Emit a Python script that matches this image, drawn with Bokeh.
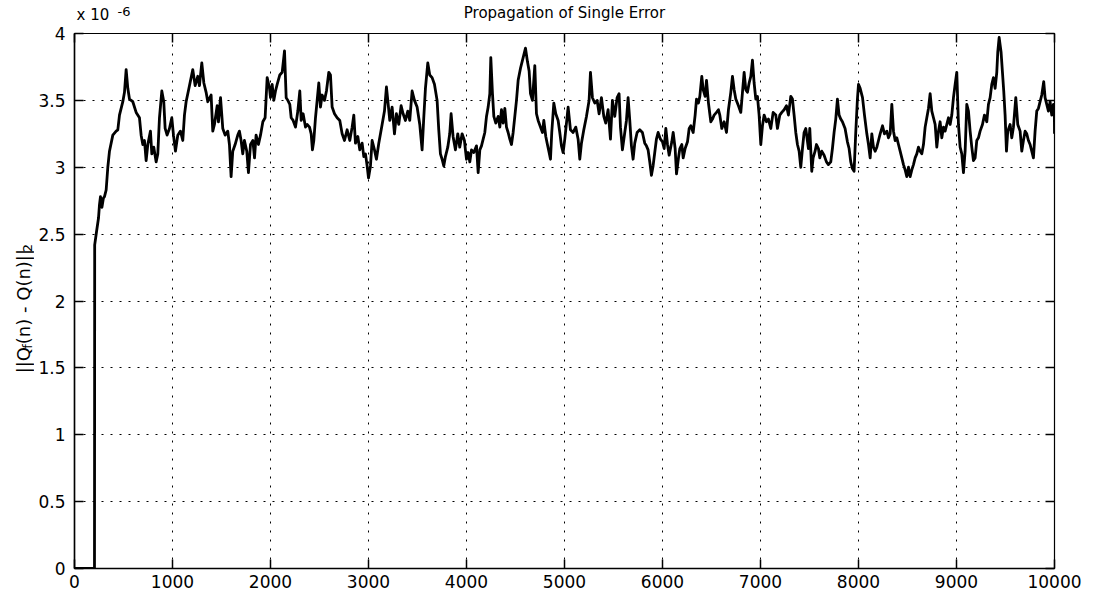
from math import pi

from bokeh.core.properties import value
from bokeh.embed import file_html
from bokeh.layouts import column, row
from bokeh.models import ColumnDataSource, FixedTicker, LinearAxis
from bokeh.plotting import figure
from bokeh.resources import INLINE

# iteration index n and ||Q_f(n) - Q(n)||_2 in units of 1e-6
n_iter = [
    0, 204, 206, 225, 245, 255, 265, 280, 295, 306, 323, 340, 357, 391, 425, 442, 459, 493, 510, 527,
    544, 561, 595, 629, 663, 680, 697, 714, 731, 748, 775, 789, 809, 833, 850, 867, 891, 911, 925, 945,
    969, 993, 1010, 1030, 1054, 1081, 1105, 1122, 1139, 1173, 1207, 1231, 1258, 1275, 1299, 1320, 1343,
    1360, 1394, 1411, 1428, 1456, 1469, 1490, 1513, 1537, 1564, 1581, 1598, 1615, 1639, 1666, 1683, 1700,
    1717, 1734, 1758, 1775, 1796, 1820, 1837, 1853, 1877, 1898, 1922, 1945, 1966, 1990,
    2000, 2017, 2034, 2051, 2068, 2095, 2119, 2143, 2160, 2177, 2197, 2211, 2231, 2255, 2279, 2299, 2313,
    2333, 2357, 2374, 2398, 2415, 2428, 2442, 2459, 2476, 2493, 2510, 2527, 2551, 2571, 2595, 2612, 2629,
    2653, 2680, 2707, 2731, 2755, 2782, 2809, 2833, 2850, 2867, 2891, 2911, 2935, 2952, 2969, 2986, 3000,
    3020, 3037, 3061, 3081, 3105, 3139, 3163, 3183, 3197, 3217, 3241, 3265, 3285, 3309, 3333, 3353, 3377,
    3401, 3421, 3445, 3469, 3496, 3523, 3547, 3564, 3581, 3605, 3625, 3649, 3673, 3700, 3717, 3734, 3751,
    3768, 3785, 3809, 3829, 3843, 3863, 3887, 3911, 3931, 3955, 3979, 3989,
    4000, 4017, 4034, 4051, 4075, 4102, 4119, 4136, 4153, 4170, 4187, 4204, 4221, 4238, 4248, 4265, 4279,
    4299, 4323, 4340, 4357, 4374, 4391, 4408, 4425, 4442, 4459, 4476, 4493, 4510, 4527, 4551, 4578, 4602,
    4622, 4639, 4653, 4673, 4697, 4714, 4731, 4755, 4775, 4789, 4809, 4823, 4843, 4857, 4870, 4891, 4911,
    4935, 4952, 4969, 4986, 5003, 5037, 5061, 5088, 5115, 5139, 5156, 5173, 5197, 5224, 5251, 5265, 5285,
    5309, 5333, 5353, 5377, 5401, 5421, 5445, 5469, 5489, 5513, 5537, 5557, 5571, 5591, 5615, 5632, 5649,
    5666, 5683, 5700, 5717, 5741, 5768, 5795, 5819, 5836, 5853, 5870, 5887, 5904, 5921, 5938, 5955, 5979,
    6000, 6017, 6034, 6051, 6068, 6095, 6109, 6129, 6143, 6163, 6177, 6197, 6211, 6231, 6255, 6272, 6289,
    6313, 6333, 6347, 6367, 6381, 6401, 6415, 6435, 6449, 6469, 6493, 6510, 6527, 6551, 6571, 6585, 6605,
    6629, 6653, 6673, 6697, 6714, 6731, 6748, 6775, 6799, 6816, 6833, 6850, 6867, 6884, 6901, 6918, 6935,
    6952, 6969, 6986, 7003, 7020, 7037, 7061, 7081, 7105, 7129, 7156, 7173, 7197, 7217, 7241, 7265, 7285,
    7309, 7326, 7343, 7360, 7377, 7394, 7411, 7428, 7445, 7462, 7489, 7503, 7523, 7537, 7557, 7571, 7591,
    7605, 7625, 7649, 7673, 7693, 7717, 7734, 7751, 7768, 7785, 7802, 7819, 7836, 7863, 7887, 7904, 7921,
    7938, 7955, 7972, 7989,
    8000, 8017, 8041, 8061, 8085, 8102, 8119, 8136, 8153, 8170, 8187, 8204, 8221, 8245, 8265, 8289, 8306,
    8323, 8340, 8357, 8374, 8391, 8408, 8425, 8442, 8459, 8476, 8493, 8510, 8527, 8544, 8561, 8578, 8595,
    8612, 8629, 8646, 8663, 8680, 8697, 8714, 8731, 8748, 8765, 8782, 8799, 8816, 8833, 8850, 8867, 8884,
    8901, 8918, 8935, 8952, 8969, 8986, 9003, 9020, 9037, 9054, 9071, 9088, 9105, 9122, 9139, 9156, 9173,
    9190, 9207, 9224, 9241, 9265, 9285, 9309, 9326, 9343, 9360, 9377, 9394, 9411, 9421, 9435, 9455, 9469,
    9482, 9496, 9510, 9523, 9547, 9564, 9581, 9605, 9625, 9649, 9666, 9683, 9700, 9717, 9734, 9751, 9768,
    9785, 9802, 9819, 9836, 9853, 9870, 9890, 9904, 9921, 9938, 9955, 9972, 9989, 9999, 10000,
]
err_e6 = [
    0.0, 0.0, 2.42, 2.52, 2.62, 2.72, 2.78, 2.70, 2.77, 2.78, 2.83, 3.00, 3.12, 3.24, 3.27, 3.28, 3.39, 3.49, 3.56, 3.73,
    3.59, 3.51, 3.49, 3.41, 3.37, 3.24, 3.17, 3.20, 3.05, 3.17, 3.27, 3.10, 3.15, 3.04, 3.10, 3.37, 3.57, 3.49, 3.29, 3.24,
    3.29, 3.37, 3.24, 3.12, 3.24, 3.27, 3.20, 3.39, 3.49, 3.61, 3.73, 3.61, 3.68, 3.61, 3.78, 3.63, 3.56,
    3.49, 3.54, 3.27, 3.32, 3.46, 3.34, 3.52, 3.29, 3.24, 3.27, 3.17, 2.93, 3.12, 3.17, 3.24, 3.27, 3.20,
    3.10, 3.20, 3.12, 2.96, 3.17, 3.20, 3.07, 3.24, 3.17, 3.24, 3.34, 3.37, 3.67, 3.59,
    3.52, 3.62, 3.50, 3.57, 3.62, 3.69, 3.71, 3.87, 3.52, 3.50, 3.47, 3.37, 3.35, 3.30, 3.42, 3.57, 3.35,
    3.40, 3.30, 3.32, 3.30, 3.25, 3.13, 3.20, 3.37, 3.50, 3.63, 3.45, 3.54, 3.50, 3.57, 3.71, 3.69, 3.45,
    3.40, 3.37, 3.35, 3.25, 3.20, 3.28, 3.20, 3.30, 3.39, 3.18, 3.23, 3.13, 3.18, 3.08, 3.10, 3.01, 2.92,
    3.01, 3.20, 3.13, 3.06, 3.18, 3.32, 3.42, 3.60, 3.50, 3.35, 3.45, 3.25, 3.40, 3.32, 3.46, 3.40, 3.35,
    3.42, 3.35, 3.57, 3.50, 3.45, 3.32, 3.13, 3.37, 3.59, 3.78, 3.69, 3.67, 3.62, 3.50, 3.28, 3.10, 3.06,
    3.01, 3.08, 3.15, 3.25, 3.40, 3.23, 3.13, 3.25, 3.15, 3.25, 3.20, 3.13,
    3.06, 3.11, 3.04, 3.13, 3.11, 3.16, 2.96, 3.13, 3.16, 3.21, 3.26, 3.38, 3.45, 3.55, 3.82, 3.55, 3.38,
    3.33, 3.38, 3.30, 3.43, 3.33, 3.44, 3.30, 3.26, 3.21, 3.17, 3.26, 3.38, 3.50, 3.65, 3.74, 3.82, 3.89,
    3.79, 3.72, 3.55, 3.50, 3.76, 3.40, 3.35, 3.30, 3.26, 3.35, 3.23, 3.18, 3.11, 3.06, 3.26, 3.48, 3.40,
    3.35, 3.26, 3.16, 3.11, 3.21, 3.45, 3.28, 3.26, 3.30, 3.21, 3.06, 3.18, 3.28, 3.38, 3.50, 3.71, 3.52,
    3.48, 3.50, 3.40, 3.52, 3.38, 3.33, 3.43, 3.21, 3.50, 3.38, 3.52, 3.55, 3.30, 3.13, 3.26, 3.35, 3.52,
    3.35, 3.16, 3.06, 3.18, 3.26, 3.28, 3.26, 3.18, 3.16, 3.13, 3.04, 2.94, 3.01, 3.11, 3.21, 3.26, 3.21,
    3.19, 3.14, 3.29, 3.17, 3.09, 3.19, 3.26, 3.14, 2.95, 3.07, 3.14, 3.17, 3.07, 3.14, 3.19, 3.29, 3.31,
    3.26, 3.39, 3.51, 3.48, 3.53, 3.68, 3.58, 3.53, 3.65, 3.48, 3.34, 3.36, 3.39, 3.41, 3.43, 3.39, 3.29,
    3.34, 3.26, 3.43, 3.56, 3.68, 3.58, 3.51, 3.46, 3.41, 3.56, 3.71, 3.58, 3.56, 3.63, 3.68, 3.80, 3.63,
    3.51, 3.53, 3.39, 3.17, 3.31, 3.39, 3.34, 3.36, 3.29, 3.41, 3.39, 3.29, 3.39, 3.41, 3.43, 3.46, 3.39,
    3.53, 3.51, 3.39, 3.26, 3.17, 3.12, 3.00, 3.14, 3.26, 3.29, 3.14, 3.29, 2.97, 3.07, 3.12, 3.17, 3.14,
    3.07, 3.12, 3.09, 3.04, 3.02, 3.04, 3.14, 3.26, 3.36, 3.51, 3.39, 3.36, 3.34, 3.29, 3.19, 3.14, 3.04,
    2.99, 2.97, 3.26, 3.51,
    3.62, 3.59, 3.52, 3.39, 3.25, 3.17, 3.07, 3.25, 3.15, 3.12, 3.15, 3.20, 3.25, 3.31, 3.25, 3.27, 3.22,
    3.25, 3.47, 3.27, 3.20, 3.22, 3.17, 3.12, 3.07, 3.02, 2.98, 2.93, 3.00, 2.93, 2.98, 3.02, 3.07, 3.10,
    3.15, 3.12, 3.10, 3.17, 3.30, 3.37, 3.44, 3.55, 3.42, 3.37, 3.32, 3.15, 3.27, 3.34, 3.22, 3.30, 3.27,
    3.32, 3.37, 3.32, 3.39, 3.52, 3.62, 3.71, 3.32, 3.15, 3.10, 2.96, 3.12, 3.47, 3.42, 3.27, 3.15, 3.05,
    3.07, 3.20, 3.22, 3.27, 3.32, 3.39, 3.34, 3.47, 3.52, 3.62, 3.67, 3.59, 3.71, 3.86, 3.97, 3.86, 3.71,
    3.57, 3.39, 3.12, 3.27, 3.32, 3.22, 3.30, 3.52, 3.32, 3.27, 3.12, 3.20, 3.27, 3.25, 3.20, 3.17, 3.12,
    3.07, 3.27, 3.42, 3.44, 3.49, 3.54, 3.64, 3.52, 3.47, 3.42, 3.49, 3.39, 3.47, 3.37, 3.25,
]

x_ticks = [0, 1000, 2000, 3000, 4000, 5000, 6000, 7000, 8000, 9000, 10000]
x_tick_labels = ["0", "1000", "2000", "3000", "4000", "5000", "6000", "7000", "8000", "9000", "10000"]
y_ticks = [0, 0.5, 1, 1.5, 2, 2.5, 3, 3.5, 4]
y_tick_labels = ["0", "0.5", "1", "1.5", "2", "2.5", "3", "3.5", "4"]

TITLE = "Propagation of Single Error"
FONT = "DejaVu Sans"

W, H = 1097, 593
TOP_H = 23          # strip holding the title and the exponent
SIDE_W = 34         # strip holding the rotated y label


def blank(fig):
    fig.axis.visible = False
    fig.grid.visible = False
    fig.outline_line_color = None
    fig.background_fill_color = "white"
    fig.border_fill_color = "white"


# ---- main axes -----------------------------------------------------------
p = figure(
    width=W - SIDE_W, height=H - TOP_H,
    x_range=(0, 10000), y_range=(0, 4),
    output_backend="svg", toolbar_location=None,
    min_border_left=74 - SIDE_W, min_border_right=43, min_border_top=33 - TOP_H, min_border_bottom=25,
    background_fill_color="white", border_fill_color="white",
)
p.outline_line_color = "black"
p.outline_line_width = 1.2

for ax, ticks, labels in ((p.xaxis[0], x_ticks, x_tick_labels), (p.yaxis[0], y_ticks, y_tick_labels)):
    ax.ticker = FixedTicker(ticks=ticks)
    ax.major_label_overrides = {t: s for t, s in zip(ticks, labels)}
    ax.major_label_text_font = FONT
    ax.major_label_text_font_size = "17px"
    ax.major_label_text_color = "black"
    ax.major_tick_in = 9
    ax.major_tick_out = 0
    ax.minor_tick_line_color = None
    ax.axis_line_color = "black"
    ax.axis_line_width = 1.5
    ax.major_tick_line_color = "black"
    ax.major_tick_line_width = 1.5
p.xaxis[0].major_label_standoff = 6
p.yaxis[0].major_label_standoff = 9

# mirrored tick marks on the top and right edges (no labels painted)
for loc, ticks in (("above", x_ticks), ("right", y_ticks)):
    ax = LinearAxis(ticker=FixedTicker(ticks=ticks))
    ax.major_label_text_font_size = "1px"
    ax.major_label_text_color = None
    ax.major_label_standoff = 0
    ax.major_tick_in = 9
    ax.major_tick_out = 0
    ax.minor_tick_line_color = None
    ax.axis_line_color = "black"
    ax.major_tick_line_color = "black"
    ax.major_tick_line_width = 1.5
    p.add_layout(ax, loc)

for g, ticks in ((p.xgrid[0], x_ticks), (p.ygrid[0], y_ticks)):
    g.ticker = FixedTicker(ticks=ticks)
    g.grid_line_color = "black"
    g.grid_line_dash = "2 7"
    g.grid_line_width = 1

p.line(n_iter, err_e6, line_color="black", line_width=2.8, line_join="round")

# ---- top strip: title and the x 10^-6 exponent ---------------------------
top = figure(width=W, height=TOP_H, x_range=(0, W), y_range=(0, TOP_H),
             output_backend="svg", toolbar_location=None, min_border=0)
blank(top)
top_text = ColumnDataSource(dict(
    x=[(74 + 1054) / 2, 76, 117],
    y=[TOP_H - 12, 0, 8],
    text=[TITLE, "x 10", "-6"],
    size=["15px", "15px", "13px"],
    align=["center", "left", "left"],
    baseline=["middle", "bottom", "bottom"],
))
top.text(x="x", y="y", text="text", source=top_text, text_font=value(FONT), text_font_size="size",
         text_align="align", text_baseline="baseline", text_color="black")

# ---- side strip: ||Q_f(n) - Q(n)||_2 written bottom-to-top ---------------
side = figure(width=SIDE_W, height=H - TOP_H, x_range=(0, SIDE_W), y_range=(0, H - TOP_H),
              output_backend="svg", toolbar_location=None, min_border=0)
blank(side)
base_y = H - 385
side_text = ColumnDataSource(dict(
    x=[23, 26.5, 23, 26.5],
    y=[base_y, base_y + 26, base_y + 31, base_y + 129],
    text=["||Q", "f", "(n) - Q(n)||", "2"],
    size=["18px", "13px", "18px", "13px"],
))
side.text(x="x", y="y", text="text", source=side_text, angle=pi / 2, text_font=value(FONT),
          text_font_size="size", text_align="left", text_baseline="alphabetic", text_color="black")

page = column(top, row(side, p, spacing=0), spacing=0)

open("out.html", "w").write(file_html(page, INLINE))
